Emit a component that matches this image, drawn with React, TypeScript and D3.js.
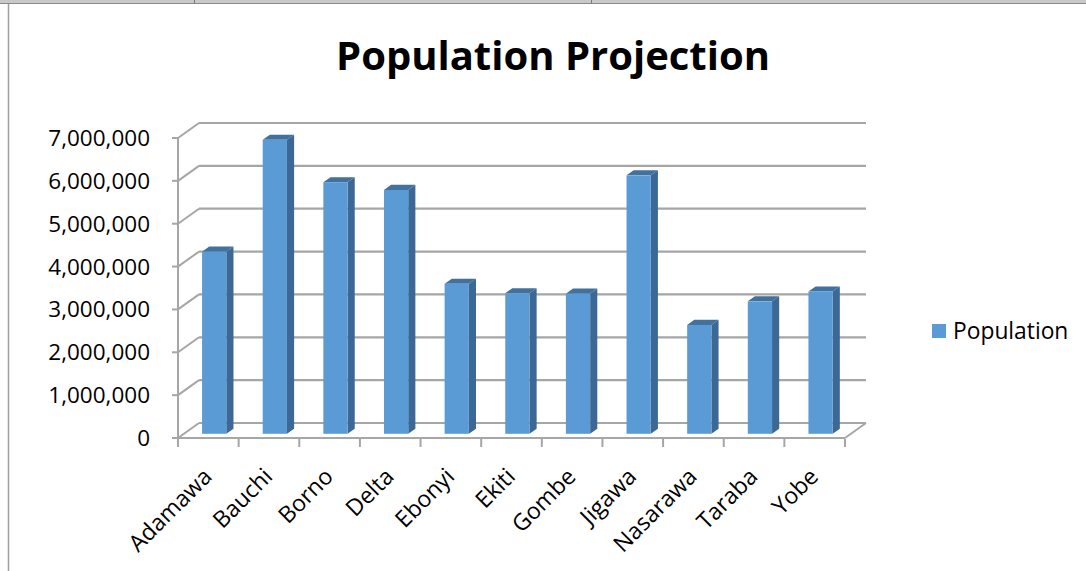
import React from 'react';
import * as d3 from 'd3';

// Projected population by state
const categories = ['Adamawa', 'Bauchi', 'Borno', 'Delta', 'Ebonyi', 'Ekiti', 'Gombe', 'Jigawa', 'Nasarawa', 'Taraba', 'Yobe'];
const population = [4250000, 6860000, 5870000, 5690000, 3500000, 3280000, 3270000, 6030000, 2540000, 3090000, 3320000];
const yTicks = [0, 1000000, 2000000, 3000000, 4000000, 5000000, 6000000, 7000000];
const seriesName = 'Population';
const title = 'Population Projection';

const W = 1086;
const H = 571;
const FONT = '"Open Sans", "Noto Sans", sans-serif';

// plot box (front plane) and 3D depth vector
const X0 = 178;
const X1 = 845;
const Y0 = 438;
const YTOP = 138;
const DX = 21;
const DY = -15;
// bar placement inside the depth
const F0 = 0.28;
const F1 = 0.62;
const BAR_FRAC = 0.4;

const GRID = '#a6a6a6';
const FRONT = '#5b9bd5';
const SIDE = '#3b6895';
const TOP = '#41719c';

export default function App() {
  const x = d3.scaleBand<string>().domain(categories).range([X0, X1]).paddingInner(0).paddingOuter(0);
  const y = d3.scaleLinear().domain([0, 7000000]).range([Y0, YTOP]);
  const fmt = d3.format(',');
  const bw = x.bandwidth() * BAR_FRAC;
  const ddx = (F1 - F0) * DX;
  const ddy = (F1 - F0) * DY;

  const edges = [...categories.map((c) => x(c) as number), X1];

  return (
    <svg width={W} height={H} style={{ position: 'absolute', left: 0, top: 0, background: '#fff' }} fontFamily={FONT}>
      {/* sheet header strip and frame edge */}
      <rect x={0} y={0} width={W} height={3} fill="#c9c9c9" />
      <line x1={0} x2={W} y1={3.5} y2={3.5} stroke="#8a8a8a" strokeWidth={1} />
      <line x1={194.5} x2={194.5} y1={0} y2={3} stroke="#7a7a7a" strokeWidth={1} />
      <line x1={591.5} x2={591.5} y1={0} y2={3} stroke="#7a7a7a" strokeWidth={1} />
      <line x1={8.5} x2={8.5} y1={4} y2={H} stroke="#a0a0a0" strokeWidth={1.5} />

      <text x={553} y={70} textAnchor="middle" fontSize={40} fontWeight={700} fill="#000">{title}</text>

      {/* back wall gridlines and side wall diagonals */}
      {yTicks.map((t) => (
        <g key={t}>
          <line x1={X0 + DX} x2={X1 + DX} y1={y(t) + DY} y2={y(t) + DY} stroke={GRID} strokeWidth={2.2} />
          <line x1={X0} x2={X0 + DX} y1={y(t)} y2={y(t) + DY} stroke={GRID} strokeWidth={2} />
          <line x1={X0 - 6} x2={X0} y1={y(t)} y2={y(t)} stroke={GRID} strokeWidth={2} />
          <text x={150} y={y(t) + 8} textAnchor="end" fontSize={22.5} fill="#000">{fmt(t)}</text>
        </g>
      ))}
      <line x1={X0} x2={X0} y1={y(7000000)} y2={Y0} stroke={GRID} strokeWidth={2} />

      {/* floor */}
      <line x1={X0} x2={X1} y1={Y0} y2={Y0} stroke={GRID} strokeWidth={2.2} />
      <line x1={X1} x2={X1 + DX} y1={Y0} y2={Y0 + DY} stroke={GRID} strokeWidth={2} />
      {edges.map((e, i) => (
        <line key={i} x1={e} x2={e} y1={Y0 + 1} y2={Y0 + 9} stroke={GRID} strokeWidth={2} />
      ))}

      {/* columns */}
      {categories.map((c, i) => {
        const v = population[i];
        const bx = (x(c) as number) + (x.bandwidth() - bw) / 2 + F0 * DX;
        const yt = y(v) + F0 * DY;
        const yb = y(0) + F0 * DY;
        return (
          <g key={c}>
            <polygon
              points={`${bx + bw},${yt} ${bx + bw + ddx},${yt + ddy} ${bx + bw + ddx},${yb + ddy} ${bx + bw},${yb}`}
              fill={SIDE}
            />
            <polygon
              points={`${bx},${yt} ${bx + ddx},${yt + ddy} ${bx + bw + ddx},${yt + ddy} ${bx + bw},${yt}`}
              fill={TOP}
            />
            <rect x={bx} y={yt} width={bw} height={yb - yt} fill={FRONT} />
          </g>
        );
      })}

      {/* category labels */}
      {categories.map((c) => {
        const cx = (x(c) as number) + x.bandwidth() / 2;
        return (
          <text key={c} transform={`translate(${cx + 5},${478}) rotate(-45)`} textAnchor="end" fontSize={23} fill="#000">
            {c}
          </text>
        );
      })}

      {/* legend */}
      <rect x={932} y={324} width={14} height={14} fill={FRONT} />
      <text x={953} y={339} fontSize={22.8} fill="#000">{seriesName}</text>
    </svg>
  );
}
